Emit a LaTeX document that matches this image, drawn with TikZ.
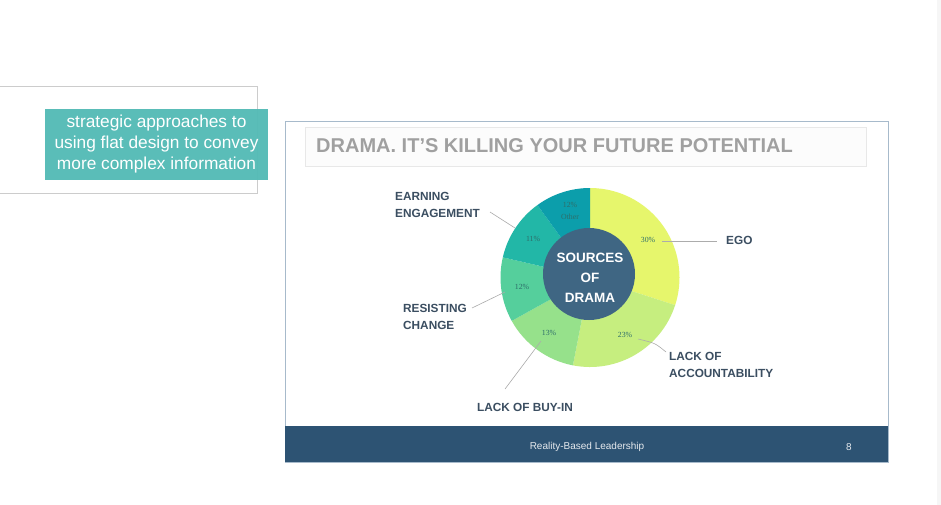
\documentclass[tikz,border=0pt]{standalone}
\usepackage{fontspec}
\setmainfont{Liberation Sans}
\newfontfamily\pctfont{Liberation Serif}
\definecolor{segyellow}{HTML}{E6F66C}
\definecolor{seglight}{HTML}{C6EE7F}
\definecolor{seggreen}{HTML}{96E18B}
\definecolor{segtealgreen}{HTML}{55CF9C}
\definecolor{segteal}{HTML}{22B7A7}
\definecolor{segdark}{HTML}{0C9EAB}
\definecolor{innerblue}{HTML}{3F6683}
\definecolor{labeltext}{HTML}{3B4E61}
\definecolor{pcttext}{HTML}{2E6E6A}
\definecolor{footerblue}{HTML}{2D5373}
\definecolor{slideborder}{HTML}{A7BACB}
\definecolor{boxgray}{HTML}{CCCCCC}
\definecolor{tealbox}{HTML}{55BBB6}
\definecolor{titlegray}{HTML}{A0A0A0}
\begin{document}
\begin{tikzpicture}[x=1pt,y=-1pt,
  cat/.style={inner sep=0pt, anchor=west, align=left, text=labeltext,
    font=\fontsize{11.8}{17}\selectfont\bfseries},
  pct/.style={inner sep=0pt, text=pcttext, font=\pctfont\fontsize{7.8}{9}\selectfont},
  leader/.style={draw=gray!65, line width=0.6pt},
  centertext/.style={inner sep=0pt, text=white, font=\fontsize{13.5}{15}\selectfont\bfseries}]
\useasboundingbox (0,0) rectangle (941,505);
\fill[white] (0,0) rectangle (941,505);
\fill[gray!7] (937,0) rectangle (941,505);
% left outline box and teal caption
\draw[boxgray, line width=1pt] (-2,87) rectangle (257,193);
\node[fill=tealbox, fill opacity=0.97, text opacity=1, minimum width=223pt, minimum height=71pt, inner sep=0pt,
  text=white, align=center, font=\fontsize{17.3}{21}\selectfont] (caption) at (156.5,144.5)
  {strategic approaches to\\using flat design to convey\\more complex information};
% slide
\draw[slideborder, fill=white, line width=1pt] (285,122) rectangle (888,462);
\draw[gray!18, fill=gray!2] (305,127) rectangle (866,166);
\node[anchor=west, inner sep=0pt, text=titlegray, font=\fontsize{20}{22}\selectfont\bfseries] (title) at (316,146)
  {DRAMA. IT’S KILLING YOUR FUTURE POTENTIAL};
\fill[footerblue] (285,426) rectangle (888,462);
\node[inner sep=0pt, text=white!88!footerblue, font=\fontsize{10}{12}\selectfont] (footer) at (587,447) {Reality-Based Leadership};
\node[inner sep=0pt, text=white!88!footerblue, font=\fontsize{10}{12}\selectfont] (pagenum) at (849,447) {8};
% donut
\begin{scope}[shift={(590,277.5)}, yscale=-1]
  \fill[segyellow] (0,0) -- (90:89.5) arc[start angle=90, end angle=-18, radius=89.5] -- cycle;
  \fill[seglight] (0,0) -- (-18:89.5) arc[start angle=-18, end angle=-101, radius=89.5] -- cycle;
  \fill[seggreen] (0,0) -- (-101:89.5) arc[start angle=-101, end angle=-151, radius=89.5] -- cycle;
  \fill[segtealgreen] (0,0) -- (-151:89.5) arc[start angle=-151, end angle=-193, radius=89.5] -- cycle;
  \fill[segteal] (0,0) -- (167:89.5) arc[start angle=167, end angle=126, radius=89.5] -- cycle;
  \fill[segdark] (0,0) -- (126:89.5) arc[start angle=126, end angle=90, radius=89.5] -- cycle;
  \fill[innerblue] (-1,3.5) circle[radius=46];
\end{scope}
\node[centertext] (c1) at (590,258) {SOURCES};
\node[centertext] (c2) at (590,278) {OF};
\node[centertext] (c3) at (590,298) {DRAMA};
% percent labels
\node[pct] (p30) at (648,240) {30\%};
\node[pct] (p23) at (625,335) {23\%};
\node[pct] (p13) at (549,333) {13\%};
\node[pct] (p12) at (522,287) {12\%};
\node[pct] (p11) at (533,239) {11\%};
\node[pct, align=center, font=\pctfont\fontsize{7.8}{12}\selectfont] (pother) at (570,211) {12\%\\Other};
% category labels
\node[cat] (ego) at (726,240) {EGO};
\node[cat] (acc) at (669,364.5) {LACK OF\\ACCOUNTABILITY};
\node[cat] (buyin) at (477,407) {LACK OF BUY-IN};
\node[cat] (resist) at (403,317) {RESISTING\\CHANGE};
\node[cat] (earn) at (395,205) {EARNING\\ENGAGEMENT};
% leader ends
\coordinate (egoA) at (662,241);
\coordinate (egoB) at (717,241);
\coordinate (accA) at (638,339);
\coordinate (accB) at (666,352);
\coordinate (buyA) at (541,341);
\coordinate (buyB) at (505,389);
\coordinate (resA) at (505,292);
\coordinate (resB) at (472,308);
\coordinate (earnA) at (490,212);
\coordinate (earnB) at (515,228);
\draw[leader] (egoA) -- (egoB);
\draw[leader] (accA) .. controls (655,343) .. (accB);
\draw[leader] (buyA) -- (buyB);
\draw[leader] (resA) -- (resB);
\draw[leader] (earnA) -- (earnB);
\end{tikzpicture}
\end{document}
